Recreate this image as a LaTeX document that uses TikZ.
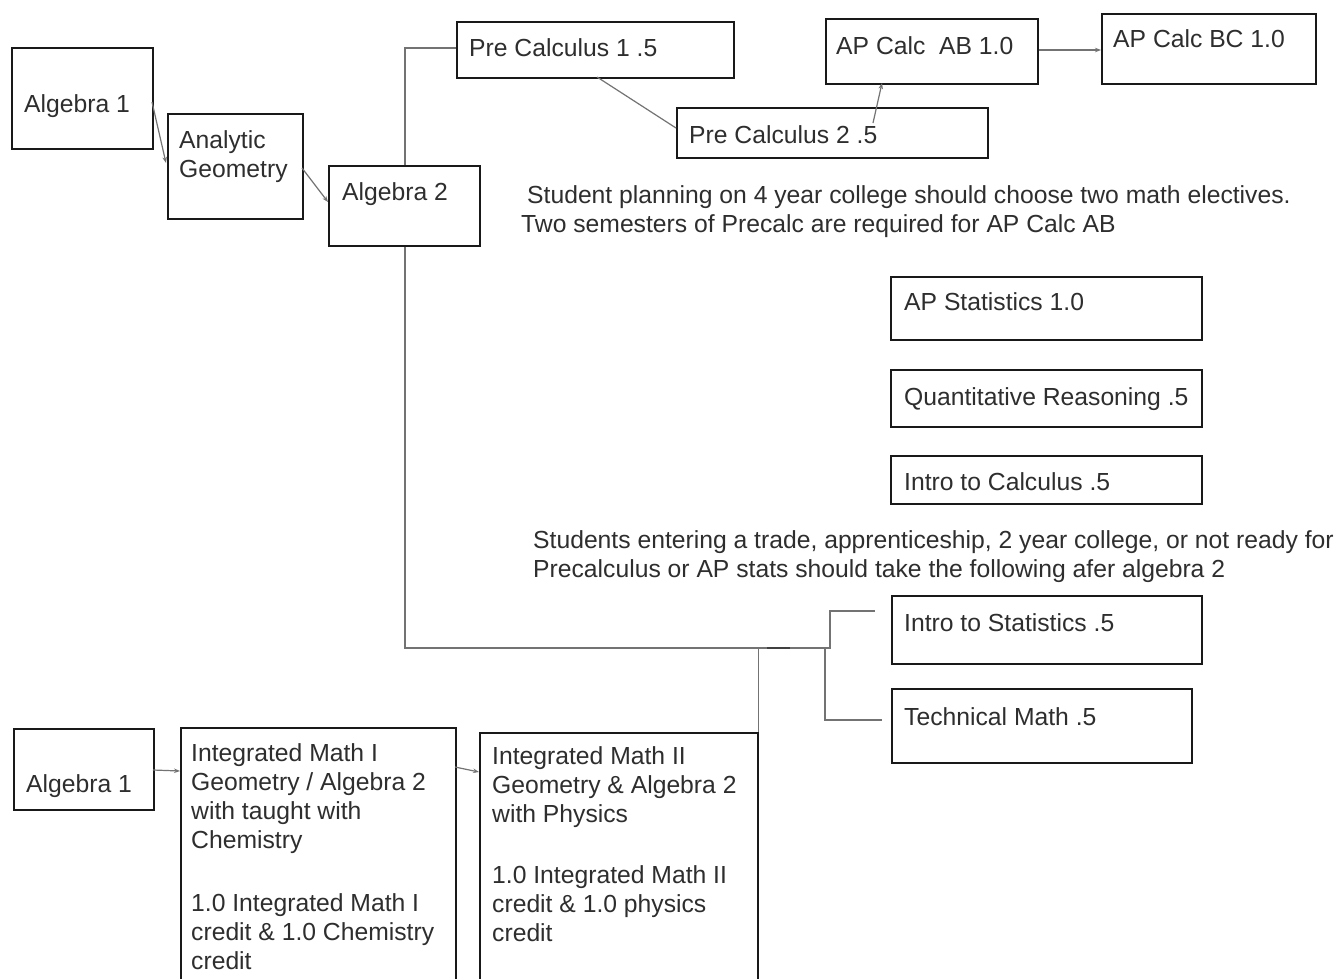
\documentclass[tikz,border=0pt]{standalone}
\usepackage{fontspec}
\setmainfont{Liberation Sans}
\usetikzlibrary{arrows.meta}
\begin{document}
\begin{tikzpicture}[x=1pt,y=-1pt,
  box/.style={draw=black!90, line width=1.6pt, inner sep=0pt, anchor=north west},
  txt/.style={inner sep=0pt, anchor=base west, text=black!82, font=\fontsize{24.7}{28.7}\selectfont, align=left},
  conn/.style={draw=black!55, line width=1.2pt},
  arr/.style={conn, -{Stealth[length=6pt,width=4.5pt]}}]
\useasboundingbox (0,0) rectangle (1338,978);
\fill[white] (0,0) rectangle (1338,978);

% boxes
\node[box, minimum width=141pt, minimum height=101pt] (alg1) at (11,47) {};
\node[box, minimum width=135pt, minimum height=105pt] (ag) at (167,113) {};
\node[box, minimum width=151pt, minimum height=80pt] (alg2) at (328,165) {};
\node[box, minimum width=277pt, minimum height=56pt] (pc1) at (456,21) {};
\node[box, minimum width=311pt, minimum height=50pt] (pc2) at (676,107) {};
\node[box, minimum width=212pt, minimum height=65pt] (ab) at (825,18) {};
\node[box, minimum width=214pt, minimum height=70pt] (bc) at (1101,13) {};
\node[box, minimum width=311pt, minimum height=63pt] (aps) at (890,276) {};
\node[box, minimum width=311pt, minimum height=57pt] (qr) at (890,369) {};
\node[box, minimum width=311pt, minimum height=48pt] (ic) at (890,455) {};
\node[box, minimum width=310pt, minimum height=68pt] (is) at (891,595) {};
\node[box, minimum width=300pt, minimum height=74pt] (tm) at (891,688) {};
\node[box, minimum width=140pt, minimum height=81pt] (alg1b) at (13,728) {};
\node[box, minimum width=275pt, minimum height=280pt] (im1) at (180,727) {};
\node[box, minimum width=278pt, minimum height=280pt] (im2) at (479,732) {};

% texts (base anchor = baseline of the last line)
\node[txt] (talg1) at (24,112) {Algebra 1};
\node[txt] (tag) at (179,177) {Analytic\\Geometry};
\node[txt] (talg2) at (342,200) {Algebra 2};
\node[txt] (tpc1) at (469,56) {Pre Calculus 1 .5};
\node[txt] (tpc2) at (689,143) {Pre Calculus 2 .5};
\node[txt] (tab) at (836,54) {AP Calc\ \ AB 1.0};
\node[txt] (tbc) at (1113,47) {AP Calc BC 1.0};
\node[txt] (tn1a) at (527,203) {Student planning on 4 year college should choose two math electives.};
\node[txt] (tn1b) at (521,232) {Two semesters of Precalc are required for AP Calc AB};
\node[txt] (taps) at (904,310) {AP Statistics 1.0};
\node[txt] (tqr) at (904,405) {Quantitative Reasoning .5};
\node[txt] (tic) at (904,490) {Intro to Calculus .5};
\node[txt] (tn2) at (533,577) {Students entering a trade, apprenticeship, 2 year college, or not ready for\\Precalculus or AP stats should take the following afer algebra 2};
\node[txt] (tis) at (904,631) {Intro to Statistics .5};
\node[txt] (ttm) at (904,725) {Technical Math .5};
\node[txt] (talg1b) at (26,792) {Algebra 1};
\node[txt] (tim1a) at (191,848) {Integrated Math I\\Geometry / Algebra 2\\with taught with\\Chemistry};
\node[txt] (tim1b) at (191,969) {1.0 Integrated Math I\\credit \& 1.0 Chemistry\\credit};
\node[txt] (tim2a) at (492,822) {Integrated Math II\\Geometry \& Algebra 2\\with Physics};
\node[txt] (tim2b) at (492,941) {1.0 Integrated Math II\\credit \& 1.0 physics\\credit};

% connector coordinates
\coordinate (a1s) at (152,102);
\coordinate (a1e) at (166,163);
\coordinate (a2s) at (302,168);
\coordinate (a2e) at (328,202);
\coordinate (up) at (405,48);
\coordinate (p1s) at (597,77);
\coordinate (p2e) at (676,128);
\coordinate (abs) at (873,123);
\coordinate (abe) at (882,83);
\coordinate (j) at (405,648);
\coordinate (jR) at (830,648);
\coordinate (jT) at (825,648);
\coordinate (isend) at (875,611);
\coordinate (tmend) at (882,720);
\coordinate (b1s) at (153,770);
\coordinate (b1e) at (180,771);
\coordinate (b2s) at (455,767);
\coordinate (b2e) at (479,772);

% connectors
\draw[arr] (a1s) -- (a1e);
\draw[arr] (a2s) -- (a2e);
\draw[conn] (alg2.north -| up) -- (up) -- (pc1.west |- up);
\draw[conn] (p1s) -- (p2e);
\draw[arr] (abs) -- (abe);
\draw[arr] (ab.east |- 0,50) -- (bc.west |- 0,50);
\draw[conn] (alg2.south -| j) -- (j) -- (jR) |- (isend);
\draw[conn] (jT) |- (tmend);
\draw[conn] (im2.north east) -- (im2.north east |- j);
\draw[draw=black!75, line width=2pt] (767,648) -- (790,648);
\draw[arr] (b1s) -- (b1e);
\draw[arr] (b2s) -- (b2e);
\end{tikzpicture}
\end{document}
